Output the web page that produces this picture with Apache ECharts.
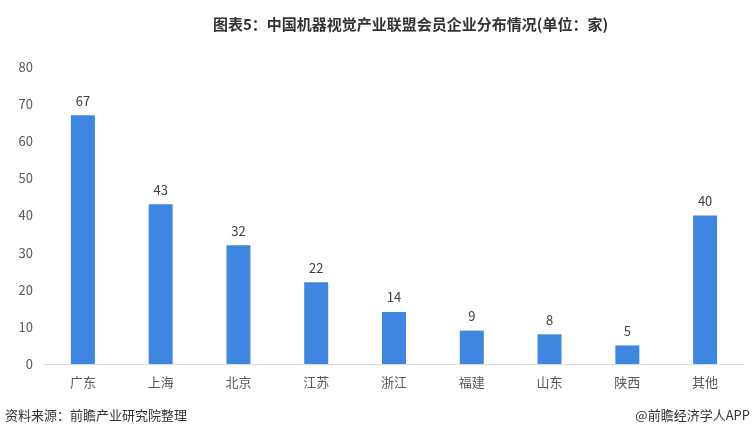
<!DOCTYPE html>
<html><head><meta charset="utf-8">
<script src="https://cdn.jsdelivr.net/npm/echarts@6/dist/echarts.min.js"></script>
<style>html,body{margin:0;padding:0;background:#fff}#c{width:753px;height:438px}</style>
</head><body><div id="c"></div>
<script>
const categories = ['广东','上海','北京','江苏','浙江','福建','山东','陕西','其他'];
const values = [67,43,32,22,14,9,8,5,40];
const yTicks = [0,10,20,30,40,50,60,70,80];
const chart = echarts.init(document.getElementById('c'));
const font = '"Noto Sans CJK SC", "Noto Sans", sans-serif';
chart.setOption({
  animation:false,
  backgroundColor:'#fff',
  title:{text:'图表5：中国机器视觉产业联盟会员企业分布情况(单位：家)',left:208,top:12,
    textStyle:{fontFamily:font,fontSize:15,fontWeight:'bold',color:'#333'}},
  graphic:[
    {type:'text',left:5,top:409,style:{text:'资料来源：前瞻产业研究院整理',font:'13px '+font,fill:'#333'}},
    {type:'text',right:3,top:409,style:{text:'@前瞻经济学人APP',font:'13px '+font,fill:'#333'}}
  ],
  grid:{left:44,right:9,top:67,bottom:74},
  xAxis:{type:'category',data:categories,
    axisLine:{lineStyle:{color:'#d9d9d9'}},axisTick:{show:false},
    axisLabel:{fontFamily:font,fontSize:13,color:'#595959',margin:12}},
  yAxis:{type:'value',min:yTicks[0],max:yTicks[yTicks.length-1],interval:10,
    axisLine:{show:false},axisTick:{show:false},splitLine:{show:false},
    axisLabel:{fontFamily:font,fontSize:13,color:'#595959',margin:11}},
  series:[{type:'bar',data:values,barWidth:24,
    itemStyle:{color:'#3f86e0'},
    label:{show:true,position:'top',distance:8,fontFamily:font,fontSize:13,color:'#404040'}}]
});
</script></body></html>
